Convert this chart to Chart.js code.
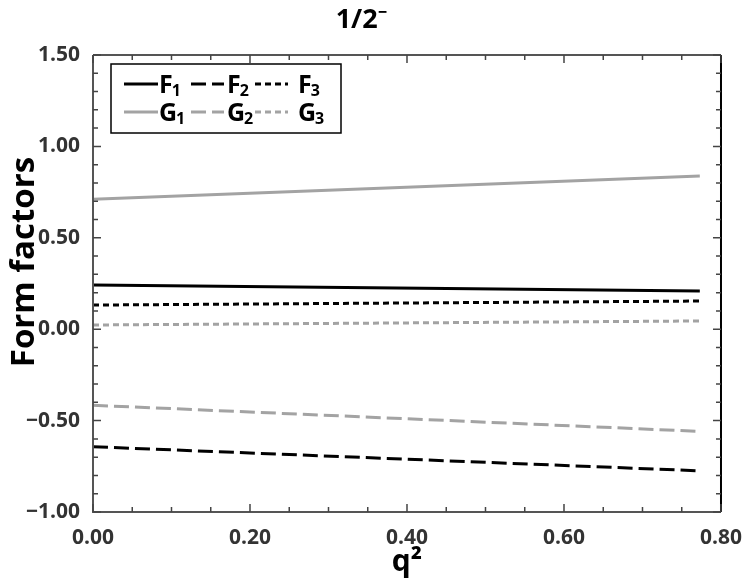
<!DOCTYPE html>
<html><head><meta charset="utf-8">
<script src="https://cdn.jsdelivr.net/npm/chart.js@4/dist/chart.umd.min.js"></script>
<style>html,body{margin:0;padding:0;background:#fff}canvas{display:block}</style>
</head><body>
<canvas id="c" width="747" height="588"></canvas>
<script>
// q^2 sample points (start and end of each curve)
const q2 = [0.0, 0.773];
// Series names (letter + subscript index)
const seriesNames = ["F1", "F2", "F3", "G1", "G2", "G3"];
// Values
const F1 = [0.242, 0.209];
const F2 = [-0.643, -0.775];
const F3 = [0.132, 0.154];
const G1 = [0.711, 0.838];
const G2 = [-0.416, -0.559];
const G3 = [0.023, 0.045];
// Axis ranges / tick steps
const xTicks = [0.0, 0.2, 0.4, 0.6, 0.8];
const yTicks = [-1.0, -0.5, 0.0, 0.5, 1.0, 1.5];

const BLACK = "#000000", GRAY = "#a3a3a3";
const FONT = "'Open Sans', 'Noto Sans', sans-serif";

function pts(vals){ return q2.map((x,i)=>({x:x, y:vals[i]})); }
const styles = [
  {c:BLACK, d:[]}, {c:BLACK, d:[15,6]}, {c:BLACK, d:[6,4]},
  {c:GRAY, d:[]}, {c:GRAY, d:[15,6]}, {c:GRAY, d:[6,4]}
];
const allVals = [F1,F2,F3,G1,G2,G3];
const datasets = allVals.map((v,i)=>({
  label: seriesNames[i], data: pts(v), borderColor: styles[i].c,
  borderDash: styles[i].d, borderWidth: 3, pointRadius: 0, fill:false, tension:0
}));

const framePlugin = {
  id:'frame',
  afterDraw(chart){
    const {ctx, chartArea:a, scales:{x,y}} = chart;
    ctx.save();
    ctx.strokeStyle = "#555"; ctx.lineWidth = 2;
    ctx.beginPath();
    ctx.moveTo(a.left, a.top); ctx.lineTo(a.right, a.top); ctx.stroke();
    ctx.beginPath(); ctx.moveTo(a.left, a.top); ctx.lineTo(a.left, a.bottom); ctx.lineTo(a.right, a.bottom); ctx.stroke();
    ctx.strokeStyle = "#000";
    ctx.beginPath(); ctx.moveTo(a.right, a.top); ctx.lineTo(a.right, a.bottom); ctx.stroke();
    // ticks
    ctx.lineWidth = 1.5; ctx.strokeStyle = "#444";
    const xmin = xTicks[0], xmax = xTicks[xTicks.length-1];
    for (let k=0; k<=Math.round((xmax-xmin)/0.05); k++){
      const v = xmin + k*0.05; const px = x.getPixelForValue(v);
      const major = k % 4 === 0; const L = major ? 8 : 5;
      ctx.beginPath(); ctx.moveTo(px, a.bottom); ctx.lineTo(px, a.bottom-L);
      ctx.moveTo(px, a.top); ctx.lineTo(px, a.top+L); ctx.stroke();
    }
    const ymin = yTicks[0], ymax = yTicks[yTicks.length-1];
    for (let k=0; k<=Math.round((ymax-ymin)/0.1); k++){
      const v = ymin + k*0.1; const py = y.getPixelForValue(v);
      const major = k % 5 === 0; const L = major ? 8 : 5;
      ctx.beginPath(); ctx.moveTo(a.left, py); ctx.lineTo(a.left+L, py);
      ctx.moveTo(a.right, py); ctx.lineTo(a.right-L, py); ctx.stroke();
    }
    ctx.restore();
  }
};

const legendPlugin = {
  id:'subLegend',
  afterDraw(chart){
    const ctx = chart.ctx;
    const box = {l:111, t:64, r:341, b:133};
    const rowsY = [84, 112];
    const cols = [{ls:124, le:158, tx:159}, {ls:191, le:224, tx:227}, {ls:255, le:288, tx:298}];
    ctx.save();
    ctx.fillStyle = "#fff";
    ctx.fillRect(box.l, box.t, box.r-box.l, box.b-box.t);
    ctx.strokeStyle = "#000"; ctx.lineWidth = 1.5;
    ctx.strokeRect(box.l, box.t, box.r-box.l, box.b-box.t);
    chart.data.datasets.forEach((ds,i)=>{
      const row = Math.floor(i/3), col = i%3;
      const yy = rowsY[row], c = cols[col];
      ctx.strokeStyle = ds.borderColor; ctx.lineWidth = 3;
      ctx.setLineDash(ds.borderDash);
      ctx.beginPath(); ctx.moveTo(c.ls, yy); ctx.lineTo(c.le, yy); ctx.stroke();
      ctx.setLineDash([]);
      ctx.fillStyle = "#000";
      ctx.textBaseline = "alphabetic"; ctx.textAlign = "left";
      ctx.font = "bold 25px " + FONT;
      const letter = ds.label.charAt(0), sub = ds.label.slice(1);
      ctx.fillText(letter, c.tx, yy+9);
      const w = ctx.measureText(letter).width;
      ctx.font = "bold 16px " + FONT;
      ctx.fillText(sub, c.tx + w - 1, yy+12);
    });
    ctx.restore();
  }
};

new Chart(document.getElementById('c'), {
  type:'line',
  data:{datasets},
  plugins:[framePlugin, legendPlugin],
  options:{
    responsive:false, animation:false,
    layout:{padding:{right:24, top:0, left:0, bottom:0}},
    plugins:{
      legend:{display:false}, tooltip:{enabled:false},
      title:{display:true, text:"1/2\u207B", color:"#000",
        font:{family:FONT, size:27, weight:'bold', lineHeight:1.2},
        padding:{top:4, bottom:18.6}}
    },
    scales:{
      x:{type:'linear', min:xTicks[0], max:xTicks[xTicks.length-1],
        grid:{display:false}, border:{display:false},
        afterFit(s){ s.height = 76; },
        ticks:{stepSize:0.2, padding:5, color:"#333", maxRotation:0,
          font:{family:FONT, size:21, weight:'bold'},
          callback:(v)=> (v<0?"\u2212":"") + Math.abs(v).toFixed(2)},
        title:{display:true, text:"q\u00B2", color:"#000",
          font:{family:FONT, size:30, weight:'bold', lineHeight:1.2}, padding:{top:0,bottom:8}}
      },
      y:{type:'linear', min:yTicks[0], max:yTicks[yTicks.length-1],
        grid:{display:false}, border:{display:false},
        afterFit(s){ s.width = 93; },
        ticks:{stepSize:0.5, padding:5, color:"#333",
          font:{family:FONT, size:21, weight:'bold'},
          callback:(v)=> (v<0?"\u2212":"") + Math.abs(v).toFixed(2)},
        title:{display:true, text:"     Form factors", color:"#000",
          font:{family:FONT, size:33, weight:'bold', lineHeight:1.2}, padding:{top:5,bottom:0}}
      }
    }
  }
});
</script>
</body></html>
